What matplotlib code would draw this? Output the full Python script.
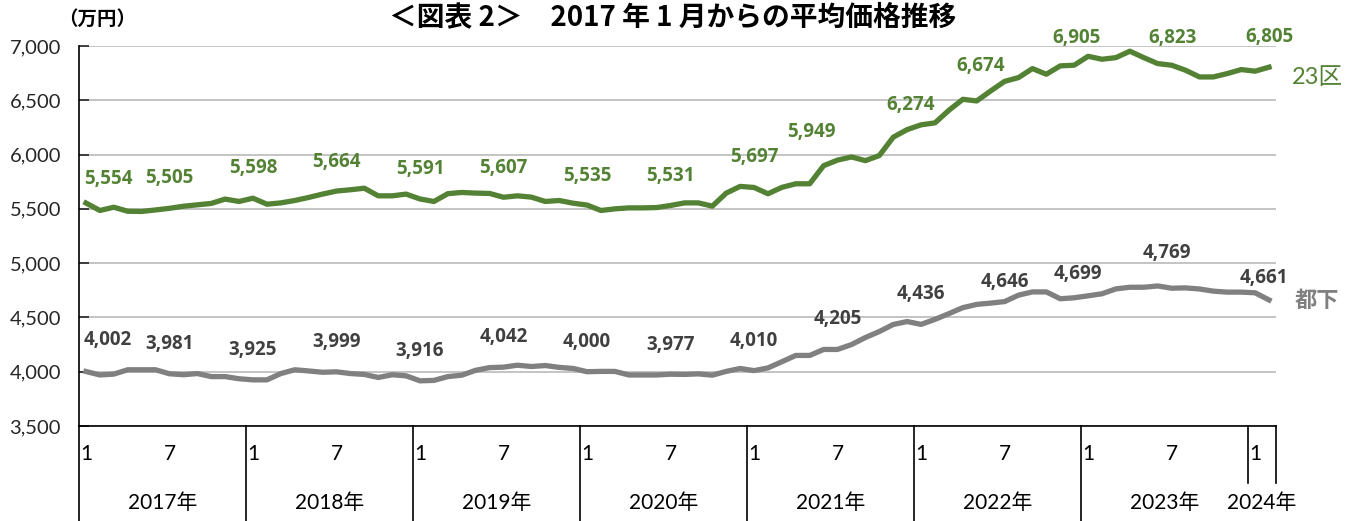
import matplotlib.pyplot as plt
from matplotlib.transforms import blended_transform_factory
import numpy as np

plt.rcParams['font.family'] = ['Lato', 'Noto Sans CJK JP', 'DejaVu Sans']

# monthly data, Jan 2017 .. Feb 2024
years = ['2017年', '2018年', '2019年', '2020年', '2021年', '2022年', '2023年', '2024年']
months = list(range(1, 13)) * 7 + [1, 2]

ku23 = [5554, 5485, 5515, 5478, 5476, 5490, 5505, 5524, 5537, 5550, 5590, 5568,
        5598, 5543, 5555, 5577, 5605, 5636, 5664, 5676, 5690, 5620, 5620, 5636,
        5591, 5568, 5640, 5651, 5645, 5642, 5607, 5620, 5608, 5568, 5577, 5552,
        5535, 5485, 5500, 5509, 5509, 5512, 5531, 5555, 5555, 5525, 5645, 5707,
        5697, 5639, 5698, 5731, 5731, 5898, 5949, 5978, 5944, 5991, 6160, 6230,
        6274, 6292, 6408, 6509, 6494, 6586, 6674, 6709, 6792, 6740, 6817, 6823,
        6905, 6878, 6893, 6952, 6893, 6838, 6823, 6777, 6715, 6715, 6746, 6783,
        6768, 6805]

toka = [4002, 3970, 3978, 4018, 4018, 4018, 3981, 3972, 3983, 3955, 3955, 3935,
        3925, 3925, 3983, 4018, 4007, 3995, 3999, 3983, 3975, 3947, 3972, 3962,
        3916, 3920, 3955, 3968, 4013, 4038, 4042, 4060, 4048, 4057, 4040, 4030,
        4000, 4003, 4003, 3970, 3970, 3970, 3977, 3975, 3980, 3968, 4003, 4030,
        4010, 4035, 4092, 4150, 4150, 4205, 4205, 4250, 4315, 4370, 4435, 4462,
        4436, 4482, 4535, 4590, 4620, 4632, 4646, 4705, 4735, 4735, 4672, 4681,
        4699, 4718, 4763, 4778, 4778, 4790, 4769, 4772, 4762, 4742, 4733, 4733,
        4727, 4661]

# months that carry a value label
label_idx = [0, 6, 12, 18, 24, 30, 36, 42, 48, 54, 60, 66, 72, 78, 85]

# label offsets in pixels (dx, dy)
ku23_off = [(22, 24), (0, 30), (0, 30), (0, 29), (0, 30), (0, 29), (0, 29), (0, 29),
            (0, 30), (-26, 28), (-10, 20), (-24, 15), (-12, 18), (1, 27), (0, 30)]
toka_off = [(22, 31), (0, 30), (0, 30), (0, 30), (0, 30), (0, 30), (0, 30), (0, 29),
            (0, 30), (0, 30), (0, 30), (0, 20), (-10, 22), (-5, 35), (-5, 22)]

GREEN = '#548235'
GRAY = '#808080'
LGRAY = '#404040'
LABEL_FONT = ['Open Sans', 'DejaVu Sans']

W, H = 1356, 521
fig = plt.figure(figsize=(W / 100, H / 100), dpi=100)
ax = fig.add_axes((79 / W, 1 - 426 / H, (1276 - 79) / W, 380 / H))

n = len(ku23)
x = np.arange(n) + 0.5
ax.plot(x, ku23, color=GREEN, lw=3.8, solid_joinstyle='round', zorder=3)
ax.plot(x, toka, color=GRAY, lw=3.8, solid_joinstyle='round', zorder=3)

for k, i in enumerate(label_idx):
    ax.annotate(f'{ku23[i]:,}', (x[i], ku23[i]), xytext=ku23_off[k],
                textcoords='offset pixels', ha='center', va='center',
                fontsize=13.5, fontweight='bold', color=GREEN, family=LABEL_FONT)
    ax.annotate(f'{toka[i]:,}', (x[i], toka[i]), xytext=toka_off[k],
                textcoords='offset pixels', ha='center', va='center',
                fontsize=13.5, fontweight='bold', color=LGRAY, family=LABEL_FONT)

ax.set_xlim(0, n)
ax.set_ylim(3500, 7000)
ax.set_yticks(range(3500, 7001, 500))
ax.set_yticklabels([f'{v:,}' for v in range(3500, 7001, 500)], fontsize=14.5, color='#262626')
ax.set_xticks([])
ax.tick_params(axis='y', direction='in', length=7, width=1.2, color='#262626', pad=13)
ax.grid(axis='y', color='#BFBFBF', lw=1.3)
ax.set_axisbelow(True)
for s in ['top', 'right']:
    ax.spines[s].set_visible(False)
ax.spines['left'].set_color('black')
ax.spines['bottom'].set_color('black')
ax.spines['left'].set_linewidth(1.2)
ax.spines['bottom'].set_linewidth(1.2)

# category axis below the plot
tr = blended_transform_factory(ax.transData, ax.transAxes)
bounds = list(range(0, n, 12)) + [n]
for b in bounds:
    low = -0.15 if b >= 84 else -0.26
    ax.plot([b, b], [0, low], color='black', lw=1.2, transform=tr, clip_on=False)
for i, m in enumerate(months):
    if m in (1, 7):
        ax.text(i + 0.5, -0.073, str(m), transform=tr, ha='center', va='center',
                fontsize=15, color='black')
for k, yname in enumerate(years):
    start = k * 12
    end = min(start + 12, n)
    ax.text((start + end) / 2, -0.203, yname, transform=tr, ha='center', va='center',
            fontsize=15, color='black')

fig.text(673 / W, 1 - 17 / H, '＜図表 2＞　2017 年 1 月からの平均価格推移',
         ha='center', va='center', fontsize=20, fontweight='bold',
         family=['Noto Sans CJK JP'])
fig.text(97 / W, 1 - 19 / H, '（万円）', ha='center', va='center', fontsize=14,
         fontweight='bold', family=['Noto Sans CJK JP'])
fig.text(1317 / W, 1 - 77 / H, '23区', ha='center', va='center', fontsize=17,
         color=GREEN)
fig.text(1317 / W, 1 - 300 / H, '都下', ha='center', va='center', fontsize=16,
         color=GRAY, fontweight='bold', family=['Noto Sans CJK JP'])

fig.savefig('out.png', dpi=100)
